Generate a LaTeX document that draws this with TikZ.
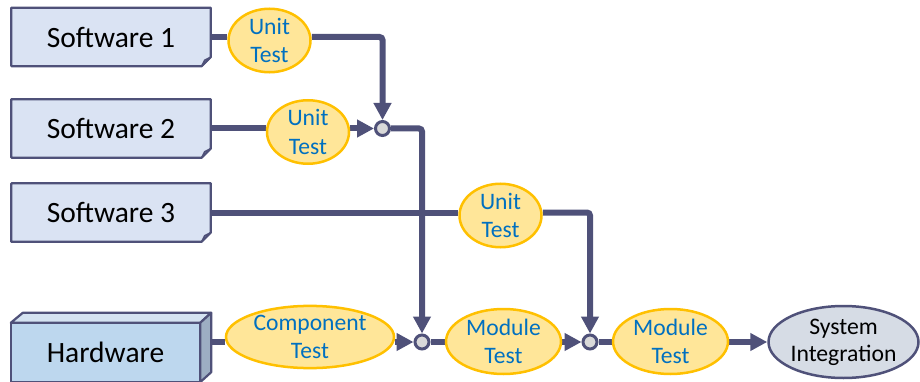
\documentclass[tikz,border=0pt]{standalone}
\usepackage{fontspec}
\setmainfont{Carlito}
\usetikzlibrary{arrows.meta,shapes.geometric,backgrounds}
\definecolor{dk}{HTML}{4F5179}
\definecolor{swfill}{HTML}{DAE3F3}
\definecolor{foldfill}{HTML}{B8C4DC}
\definecolor{tfill}{HTML}{FFE699}
\definecolor{tedge}{HTML}{FFC000}
\definecolor{tblue}{HTML}{0070C0}
\definecolor{hwfront}{HTML}{BDD7EE}
\definecolor{hwtop}{HTML}{D5E3F1}
\definecolor{hwside}{HTML}{9DAEC3}
\definecolor{sysfill}{HTML}{D6DCE5}
\definecolor{jfill}{HTML}{D9D9D9}
\begin{document}
\begin{tikzpicture}[x=1pt,y=-1pt,
 swbox/.style={minimum width=199pt, minimum height=58pt, inner sep=0pt, font=\fontsize{29.5}{34}\selectfont},
 shapeline/.style={draw=dk, line width=2.2pt, line join=round},
 test/.style={ellipse, draw=tedge, fill=tfill, line width=2.5pt, inner sep=0pt, align=center, text=tblue, font=\fontsize{23.6}{28.5}\selectfont},
 junc/.style={circle, draw=dk, fill=jfill, line width=3pt, minimum size=14pt, inner sep=0pt},
 conn/.style={draw=dk, line width=6pt, rounded corners=3pt},
 arr/.style={conn, -{Triangle[length=17pt,width=17pt]}},
]
\useasboundingbox (0,0) rectangle (920,382);

% source boxes
\node[swbox] (s1) at (111,37) {Software 1};
\node[swbox] (s2) at (111,128.5) {Software 2};
\node[swbox] (s3) at (111,212.5) {Software 3};
\node[minimum width=189pt, minimum height=59pt, inner sep=0pt, font=\fontsize{29.5}{34}\selectfont] (hw) at (105.5,352.5) {Hardware};
\coordinate (hwr) at (211,342);

% tests
\node[test, minimum width=82pt, minimum height=58pt] (u1) at (269.5,40.5) {Unit\\Test};
\node[test, minimum width=82pt, minimum height=58pt] (u2) at (308,132) {Unit\\Test};
\node[test, minimum width=82pt, minimum height=58pt] (u3) at (500.5,215.5) {Unit\\Test};
\node[test, minimum width=168pt, minimum height=59pt] (comp) at (310,337) {Component\\Test};
\node[test, minimum width=115pt, minimum height=65pt] (m1) at (503.5,341.5) {Module\\Test};
\node[test, minimum width=115pt, minimum height=65pt] (m2) at (670.5,341.5) {Module\\Test};
\node[ellipse, draw=dk, fill=sysfill, line width=2.5pt, inner sep=0pt, align=center, minimum width=150pt, minimum height=72pt, font=\fontsize{23.7}{27}\selectfont] (sys) at (843.5,342) {System\\Integration};

% junctions
\node[junc] (j1) at (382.5,128.5) {};
\node[junc] (j2) at (422,342) {};
\node[junc] (j3) at (590,342) {};

\begin{pgfonlayer}{background}
\foreach \n in {s1,s2,s3}{
  \draw[shapeline, fill=swfill] (\n.north west) -- (\n.north east) -- ([yshift=9pt]\n.south east) -- ([xshift=-9pt]\n.south east) -- (\n.south west) -- cycle;
  \draw[draw=dk, line width=1.5pt, fill=foldfill, line join=round] ([yshift=9pt]\n.south east) -- ([xshift=-6pt,yshift=6pt]\n.south east) -- ([xshift=-9pt]\n.south east) -- cycle;
}
\draw[shapeline, fill=hwfront] (hw.north west) rectangle (hw.south east);
\draw[shapeline, fill=hwtop] (hw.north west) -- ([xshift=12pt,yshift=10pt]hw.north west) -- ([xshift=11pt,yshift=10pt]hw.north east) -- (hw.north east) -- cycle;
\draw[shapeline, fill=hwside] (hw.north east) -- ([xshift=11pt,yshift=10pt]hw.north east) -- ([xshift=11pt,yshift=10pt]hw.south east) -- (hw.south east) -- cycle;

% connectors
\draw[conn] (s1.east) -- (s1.east -| u1.west);
\draw[arr] (u1.east |- s1.east) -| (j1.north);
\draw[conn] (s2.east) -- (u2.west |- s2.east);
\draw[arr] (u2.east |- j1) -- (j1.west);
\draw[arr] (j1.east) -| (j2.north);
\draw[conn] (s3.east) -- (u3.west |- s3.east);
\draw[arr] (u3.east |- s3.east) -| (j3.north);
\draw[conn] (hwr) -- (comp.west |- hwr);
\draw[arr] (comp.east |- j2) -- (j2.west);
\draw[conn] (j2.east) -- (m1.west |- j2);
\draw[arr] (m1.east |- j2) -- (j3.west);
\draw[conn] (j3.east) -- (m2.west |- j3);
\draw[arr] (m2.east |- j3) -- (sys.west);
\end{pgfonlayer}
\end{tikzpicture}
\end{document}
